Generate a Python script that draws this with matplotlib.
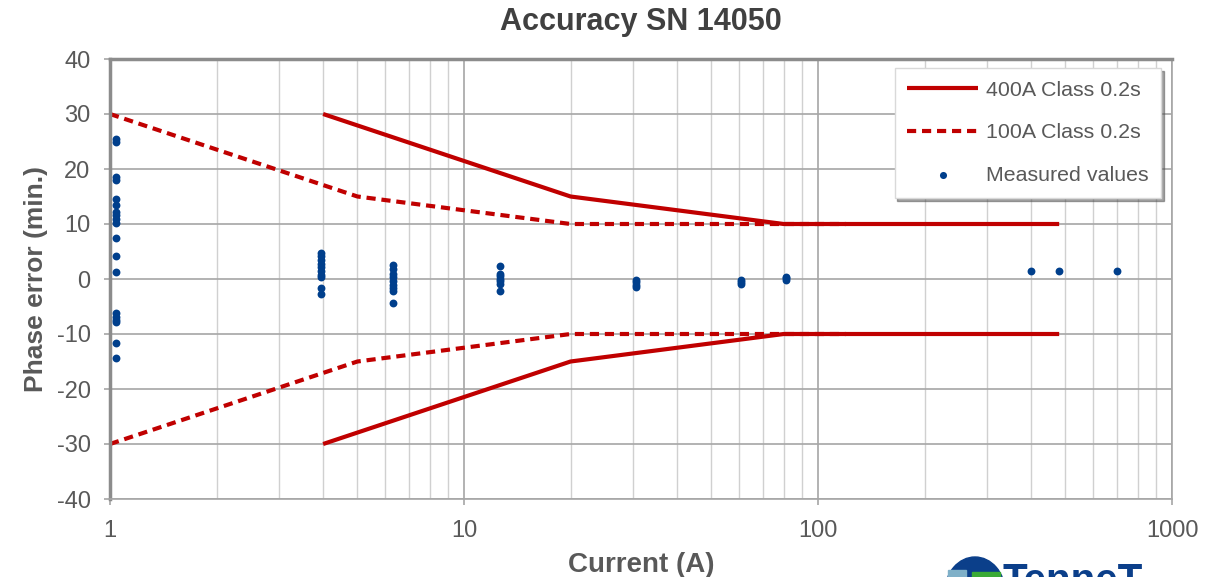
import numpy as np
import matplotlib
matplotlib.use("Agg")
import matplotlib.pyplot as plt
from matplotlib.ticker import LogLocator, FixedLocator, NullFormatter
from matplotlib.patches import Ellipse, Rectangle

plt.rcParams["font.family"] = ["Liberation Sans", "DejaVu Sans"]
plt.rcParams["axes.unicode_minus"] = False

# class limits (IEC 0.2s), phase error in minutes
lim400_x = [4, 20, 80, 400, 480]
lim400_y = [30, 15, 10, 10, 10]
lim100_x = [1, 5, 20, 100, 120]
lim100_y = [30, 15, 10, 10, 10]

# measured values: current (A) -> phase errors (min.)
meas_i = [1.04, 3.95, 6.3, 12.6, 30.6, 60.5, 81, 400, 480, 700]
meas_err = [
    [25.5, 25.0, 18.5, 18.0, 14.5, 13.5, 12.2, 11.6, 11.0, 10.1, 7.5, 4.2,
     1.2, -6.2, -6.9, -7.5, -7.9, -11.6, -14.4],
    [4.7, 4.2, 3.5, 2.8, 2.1, 1.5, 0.8, 0.3, -1.6, -2.7],
    [2.6, 1.8, 1.0, 0.3, -0.4, -1.0, -1.6, -2.2, -4.3],
    [2.3, 0.9, 0.5, 0.0, -0.4, -0.9, -2.2],
    [-0.2, -0.6, -1.0, -1.4],
    [-0.1, -0.5, -0.9],
    [0.4, 0.1, -0.2],
    [1.45],
    [1.5],
    [1.4],
]

RED = "#c00000"
BLUE = "#003f8c"
GREY_TXT = "#595959"

W, H = 1213, 577
fig = plt.figure(figsize=(W / 100, H / 100), dpi=100)
ax = fig.add_axes([110 / W, 1 - 499 / H, 1062 / W, 440 / H])

ax.plot(lim400_x, lim400_y, color=RED, lw=3, solid_capstyle="butt",
        label="400A Class 0.2s", zorder=3)
ax.plot(lim400_x, [-v for v in lim400_y], color=RED, lw=3,
        solid_capstyle="butt", zorder=3)
ax.plot(lim100_x, lim100_y, color=RED, lw=3, ls=(0, (2.2, 1.4)),
        label="100A Class 0.2s", zorder=2)
ax.plot(lim100_x, [-v for v in lim100_y], color=RED, lw=3,
        ls=(0, (2.2, 1.4)), zorder=2)

xs = np.concatenate([[x] * len(e) for x, e in zip(meas_i, meas_err)])
ys = np.concatenate(meas_err)
ax.scatter(xs, ys, s=32, color=BLUE, linewidths=0, zorder=4,
           label="Measured values")

ax.set_xscale("log")
ax.set_xlim(1, 1000)
ax.set_ylim(-40, 40)
ax.yaxis.set_major_locator(FixedLocator(np.arange(-40, 41, 10)))
ax.xaxis.set_major_locator(FixedLocator([1, 10, 100, 1000]))
ax.xaxis.set_minor_locator(LogLocator(base=10, subs=np.arange(2, 10)))
ax.xaxis.set_minor_formatter(NullFormatter())
ax.set_xticklabels(["1", "10", "100", "1000"])

ax.grid(True, which="major", color="#a6a6a6", lw=1.2, zorder=0)
ax.grid(True, which="minor", axis="x", color="#d0d0d0", lw=1.0, zorder=0)
ax.set_axisbelow(True)
for s in ax.spines.values():
    s.set_color("#a6a6a6")
    s.set_linewidth(1.2)
ax.spines["top"].set_color("#8c8c8c")
ax.spines["top"].set_linewidth(2.5)
ax.spines["left"].set_color("#8c8c8c")
ax.spines["left"].set_linewidth(2.5)

ax.tick_params(which="minor", length=0)
ax.tick_params(which="major", direction="out", length=4, width=1.2,
               color="#a6a6a6", labelsize=17, labelcolor=GREY_TXT)
ax.tick_params(axis="x", pad=11)
ax.tick_params(axis="y", pad=10)
ax.set_xlabel("Current (A)", fontsize=20, fontweight="bold", color=GREY_TXT,
              labelpad=7)
ax.set_ylabel("Phase error (min.)", fontsize=19, fontweight="bold",
              color=GREY_TXT, labelpad=6)
ax.set_title("Accuracy SN 14050", fontsize=22, fontweight="bold",
             color="#404040", pad=21)

leg = ax.legend(loc="upper right", bbox_to_anchor=(1051 / 1062, 431 / 440),
                borderaxespad=0, fontsize=15.4, frameon=True, fancybox=False,
                shadow=True, borderpad=0.6, labelspacing=1.1,
                handlelength=3.3, handletextpad=0.35, markerscale=0.9)
leg.get_frame().set_edgecolor("#d9d9d9")
leg.get_frame().set_linewidth(1.0)
for t in leg.get_texts():
    t.set_color(GREY_TXT)

# logo, cut off at the bottom edge
fig.patches.append(Ellipse((975 / W, 1 - 592 / H), 60 / W, 70 / H,
                           transform=fig.transFigure, color="#0b3f8a"))
fig.patches.append(Rectangle((948 / W, 0), 18 / W, 7 / H,
                             transform=fig.transFigure, color="#7fb0c8"))
fig.patches.append(Rectangle((972 / W, 0), 28 / W, 5 / H,
                             transform=fig.transFigure, color="#3aaa35"))
fig.text(1003 / W, 1 - 600 / H, "TenneT", fontsize=29, fontweight="bold",
         color="#0b3f8a", ha="left", va="bottom")

fig.savefig("out.png", dpi=100)
